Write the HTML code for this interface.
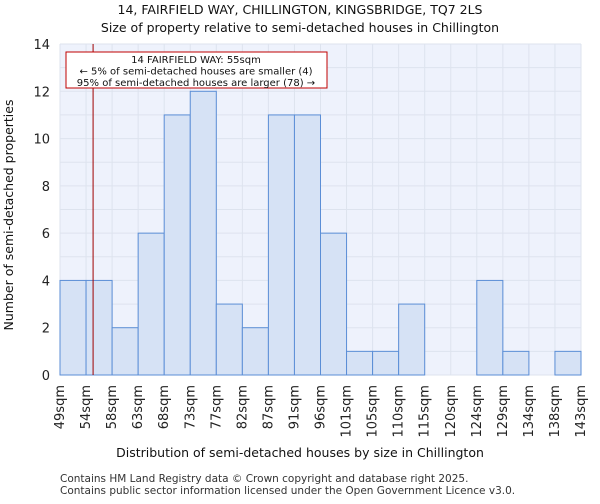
<!DOCTYPE html>
<html><head><meta charset="utf-8"><style>
body{margin:0;background:#fff;font-family:"DejaVu Sans","Liberation Sans",sans-serif}
</style></head><body>
<svg width="600" height="500" xmlns="http://www.w3.org/2000/svg" font-family="DejaVu Sans, Liberation Sans, sans-serif">
<g id="root"></g>
</svg>
<script>
const categories=["49sqm","54sqm","58sqm","63sqm","68sqm","73sqm","77sqm","82sqm","87sqm","91sqm","96sqm","101sqm","105sqm","110sqm","115sqm","120sqm","124sqm","129sqm","134sqm","138sqm","143sqm"];
const counts=[4,4,2,6,11,12,3,2,11,11,6,1,1,3,0,0,4,1,0,1];
const yTicks=[0,2,4,6,8,10,12,14];
const markerBin=1.27;
const NS="http://www.w3.org/2000/svg";
const root=document.getElementById('root');
const L=60,R=581,T=44,B=375,yMax=14;
const bw=(R-L)/counts.length;
const xs=i=>L+i*bw;
const ys=v=>B-(v/yMax)*(B-T);
function mk(tag,attrs,parent){const e=document.createElementNS(NS,tag);for(const k in attrs)e.setAttribute(k,attrs[k]);(parent||root).appendChild(e);return e;}
function tx(s,attrs){const e=mk('text',attrs);e.textContent=s;return e;}
const bg=mk('rect',{x:L,y:T,width:R-L,height:B-T,fill:'#eef2fc'});


for(let i=0;i<=counts.length;i++){const g=mk('line',{x1:xs(i),x2:xs(i),y1:T,y2:B,stroke:'#dde3ee','stroke-width':1});

}
for(let v=0;v<=yMax;v++){const g=mk('line',{x1:L,x2:R,y1:ys(v),y2:ys(v),stroke:'#dde3ee','stroke-width':1});

}
counts.forEach((c,i)=>{if(c<=0)return;const r=mk('rect',{x:xs(i),y:ys(c),width:bw,height:B-ys(c),fill:'#d6e2f5',stroke:'#5b8ed6','stroke-width':1});

});
yTicks.forEach(v=>{const t=tx(String(v),{x:L-10,y:ys(v)+5,'text-anchor':'end','font-size':13,fill:'#222'});

});
categories.forEach((c,i)=>{const x=xs(i)+4;const t=tx(c,{x:x,y:385,transform:`rotate(-90 ${x} 385)`,'text-anchor':'end','font-size':13,fill:'#222'});

});
const ml=mk('line',{x1:xs(markerBin),x2:xs(markerBin),y1:T,y2:B,stroke:'#a00000','stroke-width':1});


const box=mk('rect',{x:66,y:52,width:261,height:36,fill:'#fff',stroke:'#c00000','stroke-width':1});


[["14 FAIRFIELD WAY: 55sqm",63],["← 5% of semi-detached houses are smaller (4)",74.5],["95% of semi-detached houses are larger (78) →",86]].forEach(([s,y])=>{const t=tx(s,{x:196,y:y,'text-anchor':'middle','font-size':10,fill:'#111'});

});
const t1=tx("14, FAIRFIELD WAY, CHILLINGTON, KINGSBRIDGE, TQ7 2LS",{x:300,y:14,'text-anchor':'middle','font-size':12.5,fill:'#111'});


const t2=tx("Size of property relative to semi-detached houses in Chillington",{x:300,y:32,'text-anchor':'middle','font-size':12.5,fill:'#111'});


const xt=tx("Distribution of semi-detached houses by size in Chillington",{x:300,y:457,'text-anchor':'middle','font-size':12.5,fill:'#111'});


const yt=tx("Number of semi-detached properties",{x:13,y:215,transform:'rotate(-90 13 215)','text-anchor':'middle','font-size':12.5,fill:'#111'});


const f1=tx("Contains HM Land Registry data © Crown copyright and database right 2025.",{x:60,y:482,'font-size':10.5,fill:'#333'});


const f2=tx("Contains public sector information licensed under the Open Government Licence v3.0.",{x:60,y:494,'font-size':10.5,fill:'#333'});


</script>
</body></html>
